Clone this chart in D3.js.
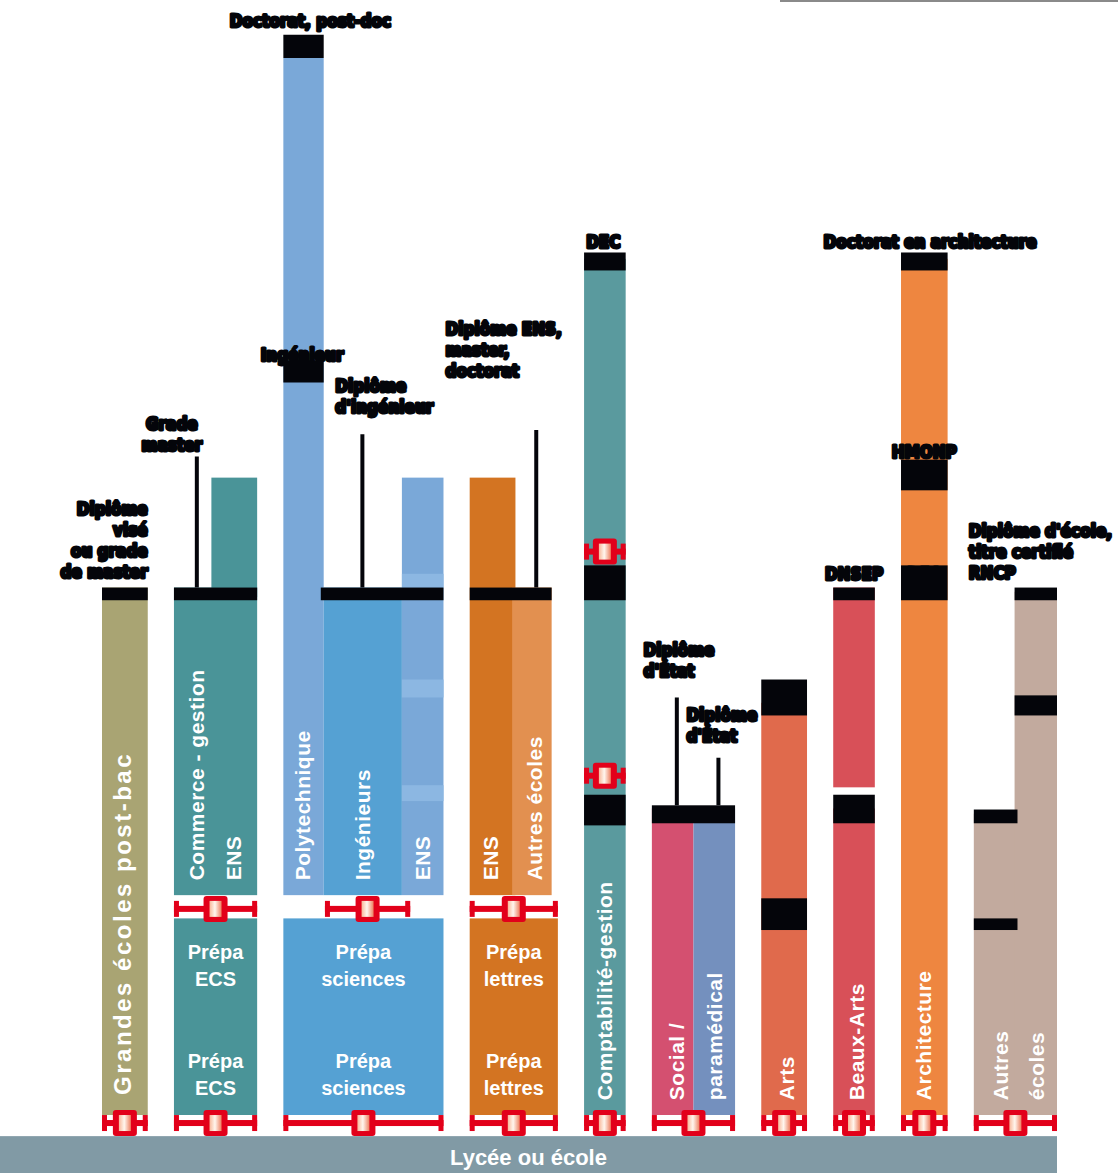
<!DOCTYPE html>
<html>
<head>
<meta charset="utf-8">
<script src="https://cdn.jsdelivr.net/npm/d3@7"></script>
<style>
  body { margin: 0; background: #fff; }
  svg { display: block; }
</style>
</head>
<body>
<div id="vis"></div>
<script>
const width = 1118;
const height = 1173;

// filières (colonnes) et leur largeur en "unités"
const columns = ["Grandes écoles post-bac", "Prépa ECS", "Prépa sciences", "Prépa lettres",
  "Comptabilité-gestion", "Social / paramédical", "Arts", "Beaux-Arts", "Architecture", "Autres écoles"];
const colUnits = [1.1, 2, 3.85, 2.12, 1, 2, 1.1, 1, 1.12, 2];
const colGap = 0.63;

// blocs d'études : colonne, sous-unités, années après le bac
const segments = [
  { col: 0, u: [0, 1.1], years: [0, 4.99], kind: "postbac" },
  { col: 1, u: [0, 2], years: [0, 1.86], kind: "ecs" },
  { col: 1, u: [0, 2], years: [2.08, 4.99], kind: "ecs" },
  { col: 1, u: [0.9, 2], years: [4.9, 6.03], kind: "ecs" },
  { col: 2, u: [0, 3.85], years: [0, 1.86], kind: "sci" },
  { col: 2, u: [0, 0.97], years: [2.08, 10], kind: "sciL" },
  { col: 2, u: [0.97, 2.85], years: [2.08, 4.99], kind: "sci" },
  { col: 2, u: [2.85, 3.85], years: [2.08, 6.03], kind: "sciL" },
  { col: 3, u: [0, 2.12], years: [0, 1.86], kind: "let" },
  { col: 3, u: [0, 1.1], years: [2.08, 6.03], kind: "let" },
  { col: 3, u: [1.02, 1.97], years: [2.08, 4.99], kind: "letL" },
  { col: 4, u: [0, 1], years: [0, 8.1], kind: "compta" },
  { col: 5, u: [0, 1], years: [0, 2.9], kind: "social" },
  { col: 5, u: [1, 2], years: [0, 2.9], kind: "para" },
  { col: 6, u: [0, 1.1], years: [0, 3.9], kind: "arts" },
  { col: 7, u: [0, 1], years: [0, 2.9], kind: "beaux" },
  { col: 7, u: [0, 1], years: [3.1, 4.99], kind: "beaux" },
  { col: 8, u: [0, 1.12], years: [0, 8.1], kind: "archi" },
  { col: 9, u: [0, 1.05], years: [0, 2.85], kind: "autres" },
  { col: 9, u: [0.98, 2], years: [0, 4.95], kind: "autres" }
];

// bandes claires (années) dans la colonne ENS sciences
const ensBands = [
  { col: 2, u: [2.85, 3.85], years: [4.99, 5.12] },
  { col: 2, u: [2.85, 3.85], years: [3.95, 4.12] },
  { col: 2, u: [2.85, 3.85], years: [2.97, 3.12] }
];

// paliers de diplômes (barres noires)
const caps = [
  { col: 0, u: [0, 1.1], years: [4.87, 4.99] },
  { col: 1, u: [0, 2], years: [4.87, 4.99] },
  { col: 2, u: [0.9, 3.85], years: [4.87, 4.99] },
  { col: 2, u: [0, 0.97], years: [6.93, 7.14] },
  { col: 2, u: [0, 0.97], years: [10, 10.22] },
  { col: 3, u: [0, 1.97], years: [4.87, 4.99] },
  { col: 4, u: [0, 1], years: [7.99, 8.16] },
  { col: 4, u: [0, 1], years: [4.87, 5.2] },
  { col: 4, u: [0, 1], years: [2.74, 3.03] },
  { col: 5, u: [0, 2], years: [2.76, 2.93] },
  { col: 6, u: [0, 1.1], years: [3.78, 4.12] },
  { col: 6, u: [0, 1.1], years: [1.75, 2.05] },
  { col: 7, u: [0, 1], years: [4.87, 4.99] },
  { col: 7, u: [0, 1], years: [2.76, 3.03] },
  { col: 8, u: [0, 1.12], years: [7.99, 8.16] },
  { col: 8, u: [0, 1.12], years: [5.91, 6.2] },
  { col: 8, u: [0, 1.12], years: [4.87, 5.2] },
  { col: 9, u: [0, 1.05], years: [2.76, 2.89] },
  { col: 9, u: [0, 1.05], years: [1.75, 1.86] },
  { col: 9, u: [0.98, 2], years: [4.87, 4.99] },
  { col: 9, u: [0.98, 2], years: [3.78, 3.97] }
];

// repères rouges (examens / concours)
const markers = [
  { col: 0, u: [0, 1.1], year: -0.076 },
  { col: 1, u: [0, 2], year: -0.076 },
  { col: 2, u: [0, 3.85], year: -0.076 },
  { col: 3, u: [0, 2.12], year: -0.076 },
  { col: 4, u: [0, 1], year: -0.076 },
  { col: 5, u: [0, 2], year: -0.076 },
  { col: 6, u: [0, 1.1], year: -0.076 },
  { col: 7, u: [0, 1], year: -0.076 },
  { col: 8, u: [0, 1.12], year: -0.076 },
  { col: 9, u: [0, 2], year: -0.076 },
  { col: 1, u: [0, 2], year: 1.95 },
  { col: 2, u: [1.0, 3.05], year: 1.95 },
  { col: 3, u: [0, 2.12], year: 1.95 },
  { col: 4, u: [0, 1], year: 5.33 },
  { col: 4, u: [0, 1], year: 3.21 }
];

// textes verticaux dans les barres
const barTexts = [
  { col: 0, u: 0.48, year: 0.19, text: "Grandes écoles post-bac" },
  { col: 1, u: 0.55, year: 2.22, text: "Commerce - gestion" },
  { col: 1, u: 1.43, year: 2.22, text: "ENS" },
  { col: 2, u: 0.45, year: 2.22, text: "Polytechnique" },
  { col: 2, u: 1.9, year: 2.22, text: "Ingénieurs" },
  { col: 2, u: 3.35, year: 2.22, text: "ENS" },
  { col: 3, u: 0.5, year: 2.22, text: "ENS" },
  { col: 3, u: 1.55, year: 2.22, text: "Autres écoles" },
  { col: 4, u: 0.5, year: 0.14, text: "Comptabilité-gestion" },
  { col: 5, u: 0.6, year: 0.14, text: "Social /" },
  { col: 5, u: 1.5, year: 0.14, text: "paramédical" },
  { col: 6, u: 0.6, year: 0.14, text: "Arts" },
  { col: 7, u: 0.55, year: 0.14, text: "Beaux-Arts" },
  { col: 8, u: 0.55, year: 0.14, text: "Architecture" },
  { col: 9, u: 0.65, year: 0.14, text: "Autres" },
  { col: 9, u: 1.5, year: 0.14, text: "écoles" }
];

// années de prépa
const prepaCols = [1, 2, 3];
const prepaNames = ["ECS", "sciences", "lettres"];
const prepaYears = [1.4, 0.36];

const colors = {
  postbac: "#a9a473", ecs: "#4a9498", sci: "#55a1d3", sciL: "#7aa8d8",
  let: "#d37422", letL: "#e29050", compta: "#5a9a9e", social: "#d45070",
  para: "#7490be", arts: "#e06a4c", beaux: "#d85058", archi: "#ee8640",
  autres: "#c2aa9e"
};

const colStart = [];
colUnits.reduce((acc, w, i) => { colStart[i] = acc; return acc + w + colGap; }, 0);
const totalUnits = d3.sum(colUnits) + colGap * (colUnits.length - 1);

const x = d3.scaleLinear().domain([0, totalUnits]).range([102, 1057]);
const y = d3.scaleLinear().domain([0, 10]).range([1115, 58]);
const ux = (col, u) => x(colStart[col] + u);

const svg = d3.select("#vis")
  .append("svg")
  .attr("width", width)
  .attr("height", height);

const defs = svg.append("defs");
const grad = defs.append("linearGradient").attr("id", "pill");
grad.append("stop").attr("offset", "0%").attr("stop-color", "#f8b89a");
grad.append("stop").attr("offset", "45%").attr("stop-color", "#fff6ee");
grad.append("stop").attr("offset", "100%").attr("stop-color", "#ee7f60");

const fontMain = "'Liberation Sans', Arial, sans-serif";
const fontNote = "'DejaVu Sans Condensed', 'Liberation Sans', Arial, sans-serif";

// filet en haut à droite
svg.append("line")
  .attr("x1", 780).attr("x2", width)
  .attr("y1", 1).attr("y2", 1)
  .attr("stroke", "#8a8a8a")
  .attr("stroke-width", 2);

// socle "Lycée ou école"
svg.append("rect")
  .attr("x", 0)
  .attr("y", y(-0.2))
  .attr("width", x(totalUnits))
  .attr("height", height - y(-0.2))
  .attr("fill", "#819aa5");

svg.append("text")
  .attr("x", x(totalUnits) / 2)
  .attr("y", y(-0.2) + 29)
  .attr("text-anchor", "middle")
  .attr("font-family", fontMain)
  .attr("font-weight", "bold")
  .attr("font-size", "22px")
  .attr("fill", "#fff")
  .text("Lycée ou école");

// blocs
svg.selectAll("rect.seg")
  .data(segments)
  .enter()
  .append("rect")
  .attr("class", "seg")
  .attr("x", d => ux(d.col, d.u[0]))
  .attr("y", d => y(d.years[1]))
  .attr("width", d => ux(d.col, d.u[1]) - ux(d.col, d.u[0]))
  .attr("height", d => y(d.years[0]) - y(d.years[1]))
  .attr("fill", d => colors[d.kind]);

svg.selectAll("rect.band")
  .data(ensBands)
  .enter()
  .append("rect")
  .attr("class", "band")
  .attr("x", d => ux(d.col, d.u[0]))
  .attr("y", d => y(d.years[1]))
  .attr("width", d => ux(d.col, d.u[1]) - ux(d.col, d.u[0]))
  .attr("height", d => y(d.years[0]) - y(d.years[1]))
  .attr("fill", "#8cb7e2");

// textes verticaux
svg.selectAll("text.vert")
  .data(barTexts)
  .enter()
  .append("text")
  .attr("class", "vert")
  .attr("transform", d => `translate(${ux(d.col, d.u)},${y(d.year)}) rotate(-90)`)
  .attr("dy", "0.36em")
  .attr("font-family", fontMain)
  .attr("font-weight", "bold")
  .attr("font-size", d => d.col === 0 ? "24px" : "21px")
  .attr("letter-spacing", d => d.col === 0 ? "2.5px" : "0.5px")
  .attr("fill", "#fff")
  .text(d => d.text);

// textes des prépas
prepaCols.forEach((col, i) => {
  prepaYears.forEach(yr => {
    const cx = ux(col, colUnits[col] / 2);
    const t = svg.append("text")
      .attr("x", cx)
      .attr("y", y(yr + 0.08))
      .attr("text-anchor", "middle")
      .attr("font-family", fontMain)
      .attr("font-weight", "bold")
      .attr("font-size", "20px")
      .attr("fill", "#fff");
    t.append("tspan").attr("x", cx).text("Prépa");
    t.append("tspan").attr("x", cx).attr("dy", 27).text(prepaNames[i]);
  });
});

// paliers noirs
svg.selectAll("rect.cap")
  .data(caps)
  .enter()
  .append("rect")
  .attr("class", "cap")
  .attr("x", d => ux(d.col, d.u[0]))
  .attr("y", d => y(d.years[1]))
  .attr("width", d => ux(d.col, d.u[1]) - ux(d.col, d.u[0]))
  .attr("height", d => y(d.years[0]) - y(d.years[1]))
  .attr("fill", "#04050a");

// annotations (diplômes)
const annotations = [
  { lines: ["Diplôme", "visé", "ou grade", "de master"], x: ux(0, 1.1), y: y(5.08), anchor: "end" },
  { lines: ["Grade", "master"], x: ux(1, -0.05), y: y(6.28), anchor: "middle", leader: { x: ux(1, 0.55), from: 6.23, to: 4.99 } },
  { lines: ["Doctorat, post-doc"], x: ux(2, 0.65), y: y(10.29), anchor: "middle" },
  { lines: ["Ingénieur"], x: ux(2, 0.45), y: y(7.13), anchor: "middle" },
  { lines: ["Diplôme", "d'ingénieur"], x: ux(2, 1.25), y: y(6.64), anchor: "start", leader: { x: ux(2, 1.9), from: 6.44, to: 4.99 } },
  { lines: ["Diplôme ENS,", "master,", "doctorat"], x: ux(3, -0.58), y: y(6.98), anchor: "start", leader: { x: ux(3, 1.6), from: 6.48, to: 4.99 } },
  { lines: ["DEC"], x: ux(4, 0.05), y: y(8.2), anchor: "start" },
  { lines: ["Diplôme", "d'État"], x: ux(5, -0.2), y: y(4.14), anchor: "start", leader: { x: ux(5, 0.6), from: 3.95, to: 2.93 } },
  { lines: ["Diplôme", "d'État"], x: ux(5, 0.83), y: y(3.53), anchor: "start", leader: { x: ux(5, 1.6), from: 3.38, to: 2.93 } },
  { lines: ["DNSEP"], x: ux(7, 0.5), y: y(5.06), anchor: "middle" },
  { lines: ["Doctorat en architecture"], x: ux(8, 0.7), y: y(8.2), anchor: "middle" },
  { lines: ["HMONP"], x: ux(8, 0.56), y: y(6.22), anchor: "middle" },
  { lines: ["DEA"], x: ux(8, 0.56), y: y(5.06), anchor: "middle" },
  { lines: ["Diplôme d'école,", "titre certifié", "RNCP"], x: ux(9, -0.12), y: y(5.07), anchor: "start" }
];

annotations.forEach(a => {
  if (a.leader) {
    svg.append("line")
      .attr("x1", a.leader.x).attr("x2", a.leader.x)
      .attr("y1", y(a.leader.from)).attr("y2", y(a.leader.to))
      .attr("stroke", "#04050a")
      .attr("stroke-width", 4);
  }
  const n = a.lines.length;
  const t = svg.append("text")
    .attr("text-anchor", a.anchor)
    .attr("font-family", fontNote)
    .attr("font-weight", "bold")
    .attr("font-size", "17px")
    .attr("fill", "#04050a")
    .attr("stroke", "#04050a")
    .attr("stroke-width", 3)
    .attr("stroke-linejoin", "round");
  a.lines.forEach((l, i) => {
    t.append("tspan")
      .attr("x", a.x)
      .attr("y", a.y - (n - 1 - i) * 21)
      .text(l);
  });
});

// repères rouges
const red = "#e2001a";
const mk = svg.selectAll("g.marker")
  .data(markers)
  .enter()
  .append("g")
  .attr("class", "marker");

mk.append("rect")
  .attr("x", d => ux(d.col, d.u[0]))
  .attr("y", d => y(d.year) - 3)
  .attr("width", d => ux(d.col, d.u[1]) - ux(d.col, d.u[0]))
  .attr("height", 6)
  .attr("fill", red);

mk.append("rect")
  .attr("x", d => ux(d.col, d.u[0]))
  .attr("y", d => y(d.year) - 8)
  .attr("width", 5)
  .attr("height", 16)
  .attr("fill", red);

mk.append("rect")
  .attr("x", d => ux(d.col, d.u[1]) - 5)
  .attr("y", d => y(d.year) - 8)
  .attr("width", 5)
  .attr("height", 16)
  .attr("fill", red);

mk.append("rect")
  .attr("x", d => (ux(d.col, d.u[0]) + ux(d.col, d.u[1])) / 2 - 12)
  .attr("y", d => y(d.year) - 13)
  .attr("width", 24)
  .attr("height", 26)
  .attr("rx", 3)
  .attr("fill", red);

mk.append("rect")
  .attr("x", d => (ux(d.col, d.u[0]) + ux(d.col, d.u[1])) / 2 - 6)
  .attr("y", d => y(d.year) - 8)
  .attr("width", 12)
  .attr("height", 16)
  .attr("fill", "url(#pill)");
</script>
</body>
</html>
